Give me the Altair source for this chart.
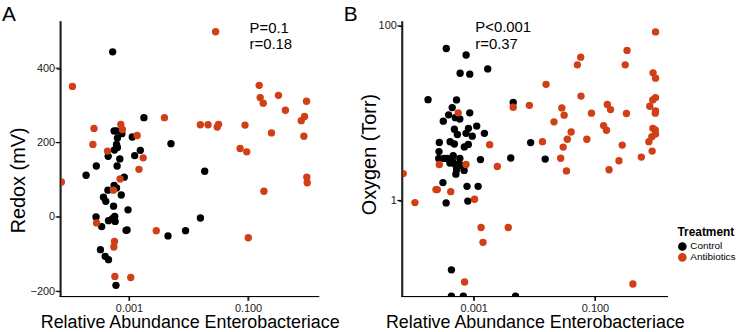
import altair as alt
import pandas as pd

FONT = "Liberation Sans"
treatments = ["Control", "Antibiotics"]
palette = ["#000000", "#D13F17"]

# ---------------- Panel A : Redox (mV) ----------------
a_ctrl_abund = [5.31e-4, 1.90e-4, 2.82e-4, 4.47e-4, 5.62e-4, 6.17e-4, 7.59e-4, 6.38e-4, 6.17e-4, 6.38e-4,
                5.69e-4, 7.00e-4, 6.31e-4, 1.135e-3, 1.78e-3, 1.245e-3, 1.55e-3, 5.07e-3, 1.87e-2, 4.52e-3,
                8.91e-3, 1.585e-2, 8.32e-4, 5.62e-4, 6.17e-4, 4.42e-4, 3.72e-4, 4.07e-4, 7.41e-4, 5.50e-4,
                9.62e-4, 2.79e-4, 3.47e-4, 4.52e-4, 5.25e-4, 5.75e-4, 5.85e-4, 8.91e-4, 9.27e-4, 3.31e-4,
                3.98e-4, 4.52e-4, 6.03e-4]
a_ctrl_redox = [444, 112, 137, 163, 231, 231, 224, 212, 195, 187,
                180, 156, 137, 215, 267, 165, 179, 197, 123, -51,
                -37, -3, 107, 85, 78, 72, 53, 42, 59, 29,
                19, 0, -26, -10, -5, 1, -12, -36, -35, -88,
                -106, -115, -184]
a_abx_abund = [7.3e-5, 1.12e-4, 2.58e-4, 2.47e-4, 2.85e-4, 4.35e-4, 7.28e-4, 7.73e-4, 7.08e-4, 5.47e-4,
               5.69e-4, 5.56e-4, 5.78e-4, 1.07e-3, 1.37e-3, 1.73e-3, 1.47e-3, 2.87e-3, 3.94e-3, 1.58e-2,
               2.13e-2, 3.04e-2, 3.20e-2, 2.85e-2, 8.91e-2, 7.36e-2, 9.51e-2, 0.101, 0.154, 0.160,
               0.180, 0.325, 0.425, 0.248, 0.185, 0.962, 0.891, 0.785, 0.868, 0.973,
               0.988]
a_abx_redox = [94, 351, 238, 195, -16, 177, 249, 235, 102, 72,
               -66, -81, -160, -163, 219, 159, 128, -37, 267, 248,
               248, 242, 249, 498, 247, 184, 175, -56, 354, 321,
               306, 327, 287, 226, 69, 311, 270, 259, 217, 107,
               92]

# ---------------- Panel B : Oxygen (Torr) ----------------
b_ctrl_abund = [3.52e-4, 7.48e-4, 1.70e-3, 5.96e-4, 8.59e-4, 1.76e-4, 5.20e-4, 4.41e-4, 8.59e-4, 3.85e-4,
                3.14e-4, 4.97e-4, 5.89e-4, 1.12e-3, 8.18e-4, 4.79e-4, 5.37e-4, 7.45e-4, 9.45e-4, 1.50e-3,
                4.07e-4, 4.79e-4, 2.70e-4, 6.99e-4, 8.13e-4, 2.67e-4, 2.64e-4, 3.22e-4, 3.65e-4, 4.04e-4,
                4.58e-4, 4.89e-4, 5.20e-4, 5.07e-4, 5.61e-4, 5.89e-4, 6.28e-4, 6.93e-4, 4.48e-4, 1.29e-3,
                4.08e-3, 1.51e-2, 4.48e-3, 8.69e-3, 3.10e-4, 7.74e-4, 1.18e-3, 3.50e-4, 7.97e-4, 4.28e-4,
                4.28e-4, 6.73e-4, 4.89e-3]
b_ctrl_oxy = [55.2, 46.5, 32.2, 28.7, 28.0, 14.3, 14.2, 11.6, 10.1, 9.57,
              8.11, 8.89, 8.59, 7.11, 6.70, 6.55, 5.70, 5.88, 5.45, 5.88,
              4.71, 4.44, 4.62, 4.11, 4.39, 3.63, 3.03, 3.03, 3.03, 2.68,
              3.25, 2.59, 2.25, 2.00, 2.61, 3.03, 2.52, 2.21, 2.80, 2.94,
              3.06, 2.98, 13.3, 4.60, 1.60, 1.45, 1.45, 0.937, 0.982, 0.160,
              0.08, 0.08, 0.08]
b_abx_abund = [5.53e-4, 1.83e-3, 2.45e-3, 6.85e-5, 2.70e-4, 7.45e-4, 2.38e-4, 2.50e-4, 4.17e-4, 1.07e-4,
               1.03e-3, 1.32e-3, 3.71e-3, 1.42e-3, 7.06e-4, 4.48e-3, 8.28e-3, 1.56e-2, 1.36e-2, 1.0,
               0.339, 0.316, 0.0583, 0.0513, 0.910, 1.0, 0.0589, 0.0284, 0.0310, 0.0877,
               0.0211, 0.160, 0.181, 0.331, 0.804, 0.900, 1.0, 1.0, 0.99, 0.139,
               0.155, 0.0405, 0.0350, 0.0735, 0.0299, 0.0272, 0.0339, 0.282, 0.249, 0.171,
               0.583, 0.879, 0.776, 0.869, 1.0, 0.904, 0.99, 0.423]
b_abx_oxy = [10.1, 4.36, 2.45, 2.03, 2.58, 2.58, 1.33, 1.33, 1.26, 0.944,
             1.03, 0.490, 0.490, 0.331, 0.116, 11.7, 12.3, 21.4, 4.72, 85.5,
             52.4, 35.8, 43.9, 35.8, 29.0, 25.2, 15.7, 11.5, 9.49, 10.0,
             7.96, 12.6, 11.0, 9.93, 12.0, 14.2, 15.1, 10.6, 10.0, 7.21,
             6.38, 6.08, 5.02, 5.02, 4.09, 3.04, 2.18, 4.31, 2.85, 2.25,
             3.14, 3.68, 4.72, 5.38, 5.77, 6.70, 6.41, 0.110]

# axes / annotations
x_ticks = [0.001, 0.1]
a_y_ticks = [-200, 0, 200, 400]
b_y_ticks = [1, 100]
a_x_domain = [7.08e-5, 1.549]
b_x_domain = [6.61e-5, 1.574]
a_y_domain = [-213, 527]
b_y_domain = [0.08, 114]
a_stats = ["P=0.1", "r=0.18"]
a_stat_x = [0.106, 0.106]
a_stat_y = [496, 452]
b_stats = ["P<0.001", "r=0.37"]
b_stat_x = [0.00106, 0.00106]
b_stat_y = [85.5, 54.4]


def frame(abund_c, val_c, abund_t, val_t):
    return pd.DataFrame({
        "abund": abund_c + abund_t,
        "value": val_c + val_t,
        "Treatment": ["Control"] * len(abund_c) + ["Antibiotics"] * len(abund_t),
    })


df_a = frame(a_ctrl_abund, a_ctrl_redox, a_abx_abund, a_abx_redox)
df_b = frame(b_ctrl_abund, b_ctrl_oxy, b_abx_abund, b_abx_oxy)
ann_a = pd.DataFrame({"abund": a_stat_x, "value": a_stat_y, "label": a_stats})
ann_b = pd.DataFrame({"abund": b_stat_x, "value": b_stat_y, "label": b_stats})

axis_common = dict(grid=False, domain=True, ticks=True, domainColor="#000000", domainWidth=1,
                   tickColor="#000000", tickSize=4, tickWidth=1,
                   labelFont=FONT, labelFontSize=11, labelColor="#1a1a1a", labelPadding=2,
                   titleFont=FONT, titleFontWeight="normal", titleColor="black",
                   labelFlush=False)

color_scale = alt.Scale(domain=treatments, range=palette)


def panel(df, ann, letter, x_domain, y_scale, y_ticks, y_fmt, y_title, y_title_x, y_title_y,
          width, height, legend):
    x_enc = alt.X("abund:Q", scale=alt.Scale(type="log", domain=x_domain, nice=False),
                  axis=alt.Axis(values=x_ticks, format=".3f", title="Relative Abundance Enterobacteriace",
                                titleFontSize=18, titleBaseline="alphabetic", titleY=32, **axis_common))
    y_enc = alt.Y("value:Q", scale=y_scale,
                  axis=alt.Axis(values=y_ticks, format=y_fmt, title=y_title, titleAngle=270,
                                titleFontSize=20, titleBaseline="alphabetic", titleX=y_title_x,
                                titleY=y_title_y, **axis_common))
    pts = alt.Chart(df).mark_circle(size=55, opacity=1, clip=True).encode(
        x=x_enc, y=y_enc,
        color=alt.Color("Treatment:N", scale=color_scale, legend=legend),
    )
    txt = alt.Chart(ann).mark_text(align="left", baseline="alphabetic", font=FONT, fontSize=15,
                                   color="black").encode(x=x_enc, y=y_enc, text="label:N")
    lab = alt.Chart(pd.DataFrame({"panel": [letter]})).mark_text(
        align="left", baseline="top", font=FONT, fontSize=21, color="black"
    ).encode(x=alt.value(-59), y=alt.value(-17), text="panel:N")
    # filled axis lines along the left and bottom edges of the plot
    frame_df = pd.DataFrame({"k": [0]})
    y_line = alt.Chart(frame_df).mark_rect(color="black").encode(
        x=alt.value(-1), x2=alt.value(0.2), y=alt.value(0), y2=alt.value(height + 1))
    x_line = alt.Chart(frame_df).mark_rect(color="black").encode(
        x=alt.value(-1), x2=alt.value(width), y=alt.value(height - 0.2), y2=alt.value(height + 1))
    # filled tick marks at the tick values (through the shared scales)
    x_tick_marks = alt.Chart(pd.DataFrame({"abund": x_ticks})).mark_tick(
        color="black", thickness=1.1, size=4, orient="vertical", opacity=1
    ).encode(x=x_enc, y=alt.value(height + 3))
    y_tick_marks = alt.Chart(pd.DataFrame({"value": y_ticks})).mark_tick(
        color="black", thickness=1.1, size=4, orient="horizontal", opacity=1
    ).encode(y=y_enc, x=alt.value(-3))
    return alt.layer(pts, txt, lab, y_line, x_line, x_tick_marks, y_tick_marks).properties(
        width=width, height=height)


legend_b = alt.Legend(title="Treatment", orient="none", legendX=277, legendY=207,
                      titleFont=FONT, titleFontSize=12, titleFontWeight="bold", titleColor="black",
                      labelFont=FONT, labelFontSize=10, labelColor="black", symbolType="circle",
                      symbolSize=75, symbolStrokeWidth=0, symbolOpacity=1, titlePadding=3,
                      rowPadding=1, labelOffset=3, padding=0)

panel_a = panel(df_a, ann_a, "A", a_x_domain,
                alt.Scale(domain=a_y_domain, nice=False, zero=False), a_y_ticks, "d",
                "Redox (mV)", -36, 160, 260, 277, None)
panel_b = panel(df_b, ann_b, "B", b_x_domain,
                alt.Scale(type="log", domain=b_y_domain, nice=False), b_y_ticks, ".0f",
                "Oxygen (Torr)", -27, 134, 267, 277, legend_b)

chart = (
    alt.hconcat(panel_a, panel_b, spacing=3)
    .resolve_scale(color="independent")
    .resolve_legend(color="independent")
    .properties(padding={"left": 2, "top": 3, "right": 0, "bottom": 0})
    .configure_view(stroke=None)
)

chart.save("out.html", embed_options={"renderer": "svg", "actions": False})
